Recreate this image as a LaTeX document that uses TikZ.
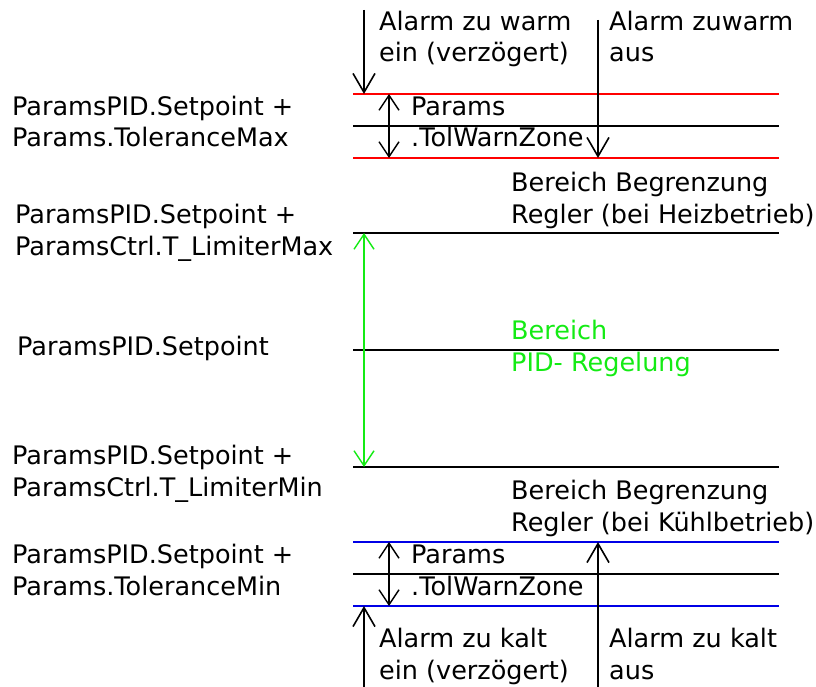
\documentclass[tikz,border=0pt]{standalone}
\usepackage{fontspec}
\setmainfont{DejaVu Sans}
\usetikzlibrary{arrows.meta,positioning}

\definecolor{warmline}{RGB}{255,0,0}
\definecolor{coldline}{RGB}{0,0,230}
\definecolor{pidgreen}{RGB}{20,235,20}

\tikzset{
  level/.style={line width=1.2pt},
  alarm/.style={line width=2pt, -{Straight Barb[length=19pt,width=22pt,line width=1.6pt]}},
  zone/.style={line width=1.6pt, {Straight Barb[length=15pt,width=20pt,line width=1.4pt]}-{Straight Barb[length=15pt,width=20pt,line width=1.4pt]}},
  % base west = baseline of the last line
  lbl/.style={anchor=base west, align=left, inner sep=0pt, font=\fontsize{25.5}{31.5}\selectfont},
}

\begin{document}
\begin{tikzpicture}[x=1pt, y=-1pt, line cap=butt]

  \useasboundingbox (0,0) rectangle (816,687);

  % --- levels (horizontal lines) ---
  \foreach \name/\yy/\col in {tmaxm/126/black, limmax/233/black, setp/350/black,
                              limmin/467/black, tminm/574/black,
                              tmaxo/94/warmline, tmaxu/158/warmline,
                              tmino/542/coldline, tminu/606/coldline} {
    \coordinate (\name-l) at (353,\yy);
    \coordinate (\name-r) at (779,\yy);
    \draw[level, draw=\col] (\name-l) -- (\name-r);
  }

  % --- labels on the left ---
  \node[lbl] (ltolmax) at (12,147) {ParamsPID.Setpoint +\\Params.ToleranceMax};
  \node[lbl] (llimmax) at (15,255) {ParamsPID.Setpoint +\\ParamsCtrl.T\_LimiterMax};
  \node[lbl] (lsetp)   at (17,355) {ParamsPID.Setpoint};
  \node[lbl] (llimmin) at (12,496) {ParamsPID.Setpoint +\\ParamsCtrl.T\_LimiterMin};
  \node[lbl] (ltolmin) at (12,595) {ParamsPID.Setpoint +\\Params.ToleranceMin};

  % --- warm side ---
  \coordinate (warmein) at (364,10);
  \coordinate (warmaus) at (598,20);
  \draw[alarm] (warmein) -- (warmein |- tmaxo-l);
  \draw[alarm] (warmaus) -- (warmaus |- tmaxu-l);
  \coordinate (tolmaxo) at (389,94);
  \draw[zone] (tolmaxo) -- (tolmaxo |- tmaxu-l);
  \node[lbl] (twarmein) at (379,62) {Alarm zu warm\\ein (verzögert)};
  \node[lbl] (twarmaus) at (609,62) {Alarm zuwarm\\aus};
  \node[lbl] (ttolmax)  at (411,147) {Params\\.TolWarnZone};
  \node[lbl] (theiz)    at (511,223) {Bereich Begrenzung\\Regler (bei Heizbetrieb)};

  % --- PID range ---
  \coordinate (pid) at (364,233);
  \draw[zone, pidgreen, line width=1.4pt] (pid) -- (pid |- limmin-l);
  \node[lbl, text=pidgreen] (tpid) at (511,371) {Bereich\\PID- Regelung};

  % --- cold side ---
  \node[lbl] (tkuehl)   at (511,531) {Bereich Begrenzung\\Regler (bei Kühlbetrieb)};
  \coordinate (tolmino) at (389,542);
  \draw[zone] (tolmino) -- (tolmino |- tminu-l);
  \node[lbl] (ttolmin)  at (411,595) {Params\\.TolWarnZone};
  \coordinate (kaltein) at (364,687);
  \coordinate (kaltaus) at (598,687);
  \draw[alarm] (kaltein) -- (kaltein |- tminu-l);
  \draw[alarm] (kaltaus) -- (kaltaus |- tmino-l);
  \node[lbl] (tkaltein) at (379,679) {Alarm zu kalt\\ein (verzögert)};
  \node[lbl] (tkaltaus) at (609,679) {Alarm zu kalt\\aus};

\end{tikzpicture}
\end{document}
